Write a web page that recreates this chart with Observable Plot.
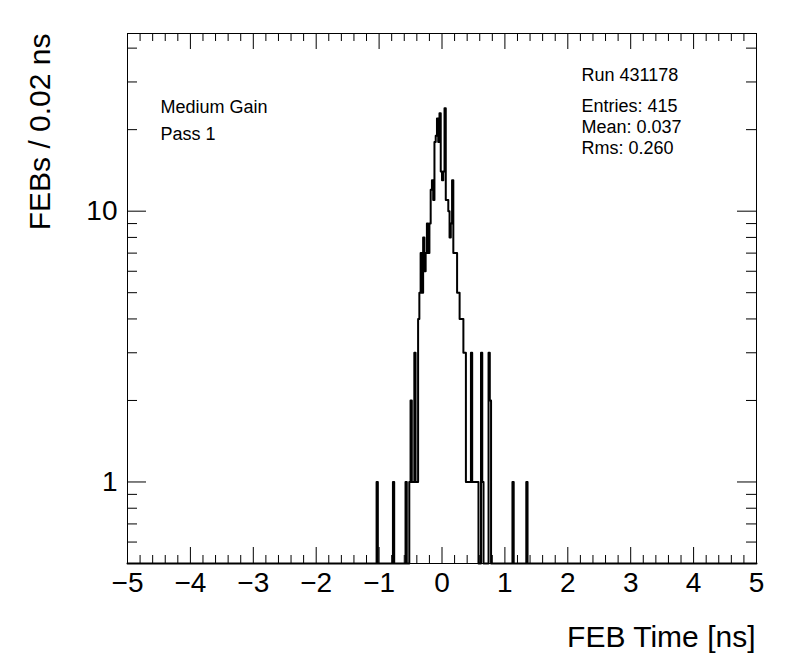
<!DOCTYPE html>
<html>
<head>
<meta charset="utf-8">
<script src="https://cdn.jsdelivr.net/npm/d3@7"></script>
<script src="https://cdn.jsdelivr.net/npm/@observablehq/plot@0.6"></script>
<style>
  body { margin: 0; background: #fff; }
  #chart svg { display: block; }
</style>
</head>
<body>
<div id="chart"></div>
<script>
// ---- data ----
const binWidth = 0.02;
const xMin = -5, xMax = 5;
const binLow = [
  -1.04, -0.78, -0.58, -0.52, -0.50, -0.48, -0.46, -0.44, -0.42, -0.40, -0.38,
  -0.36, -0.34, -0.32, -0.30, -0.28, -0.26, -0.24, -0.22, -0.20,
  -0.18, -0.16, -0.14, -0.12, -0.10, -0.08, -0.06, -0.04, -0.02,
  0.00, 0.02, 0.04, 0.06, 0.08, 0.10, 0.12, 0.14, 0.16, 0.18,
  0.20, 0.22, 0.24, 0.26, 0.28, 0.30, 0.32, 0.34, 0.36,
  0.38, 0.40, 0.42, 0.44, 0.46, 0.48, 0.50, 0.52, 0.54, 0.56,
  0.62, 0.64, 0.74, 0.76, 1.12, 1.34
];
const binCount = [
  1, 1, 1, 1, 2, 1, 1, 3, 1, 1, 4,
  5, 7, 5, 8, 6, 7, 9, 7, 9,
  12, 13, 11, 18, 19, 22, 18, 23, 14,
  13, 14, 24, 11, 11, 10, 8, 9, 13, 7,
  7, 7, 5, 5, 4, 4, 4, 3, 3,
  1, 1, 1, 1, 3, 1, 1, 1, 1, 1,
  3, 1, 3, 2, 1, 1
];
const xMajorTicks = [-5, -4, -3, -2, -1, 0, 1, 2, 3, 4, 5];
const yMajorTicks = [1, 10];
const yMinorTicks = [0.6, 0.7, 0.8, 0.9, 2, 3, 4, 5, 6, 7, 8, 9, 20, 30, 40];
const yDomain = [0.5, 45.3];
const xTitle = "FEB Time [ns]";
const yTitle = "FEBs / 0.02 ns";
const infoLines = ["Medium Gain", "Pass 1"];
const runLabel = "Run 431178";
const statLines = ["Entries: 415", "Mean: 0.037", "Rms: 0.260"];

// ---- build histogram steps ----
const nBins = Math.round((xMax - xMin) / binWidth);
const counts = new Array(nBins).fill(0);
binLow.forEach((lo, i) => { counts[Math.round((lo - xMin) / binWidth)] = binCount[i]; });
const steps = counts.map((c, i) => ({x: xMin + i * binWidth, y: c}));
steps.push({x: xMax, y: counts[nBins - 1]});

// minor x ticks every 0.2 between majors
const xMinorTicks = d3.range(xMin * 5, xMax * 5 + 1).filter(k => k % 5 !== 0).map(k => k / 5);

// ---- layout ----
const W = 796, H = 672;
const mL = 127, mR = 40, mT = 33, mB = 109;
const iw = W - mL - mR, ih = H - mT - mB;
const font = "'Liberation Sans', Arial, Helvetica, sans-serif";
const fmt = d => d < 0 ? "\u2212" + (-d) : String(d);

const tickOpts = {stroke: "black", strokeWidth: 1};

const chart = Plot.plot({
  width: W, height: H,
  marginLeft: mL, marginRight: mR, marginTop: mT, marginBottom: mB,
  style: {fontFamily: font, background: "white", color: "black"},
  x: {domain: [xMin, xMax], axis: null},
  y: {type: "log", domain: yDomain, clamp: true, axis: null},
  marks: [
    // histogram outline
    Plot.line(steps, {x: "x", y: "y", curve: "step-after", stroke: "black", strokeWidth: 2}),
    Plot.frame({stroke: "black", strokeWidth: 1}),
    // x ticks bottom & top
    Plot.tickX(xMajorTicks, {x: d => d, insetTop: ih - 16, ...tickOpts}),
    Plot.tickX(xMinorTicks, {x: d => d, insetTop: ih - 8, ...tickOpts}),
    Plot.tickX(xMajorTicks, {x: d => d, insetBottom: ih - 16, ...tickOpts}),
    Plot.tickX(xMinorTicks, {x: d => d, insetBottom: ih - 8, ...tickOpts}),
    // y ticks left & right
    Plot.tickY(yMajorTicks, {y: d => d, insetRight: iw - 19, ...tickOpts}),
    Plot.tickY(yMinorTicks, {y: d => d, insetRight: iw - 10, ...tickOpts}),
    Plot.tickY(yMajorTicks, {y: d => d, insetLeft: iw - 19, ...tickOpts}),
    Plot.tickY(yMinorTicks, {y: d => d, insetLeft: iw - 10, ...tickOpts}),
    // tick labels
    Plot.text(xMajorTicks, {x: d => d, text: fmt, frameAnchor: "bottom", lineAnchor: "middle",
      dy: 20, fontSize: 28, fill: "black"}),
    Plot.text(yMajorTicks, {y: d => d, text: fmt, frameAnchor: "left", textAnchor: "end",
      lineAnchor: "middle", dx: -10, fontSize: 28, fill: "black"}),
    // axis titles
    Plot.text([xTitle], {text: d => d, frameAnchor: "bottom-right", textAnchor: "end",
      lineAnchor: "middle", dx: -1, dy: 74, fontSize: 30, fill: "black"}),
    Plot.text([yTitle], {text: d => d, frameAnchor: "top-left", textAnchor: "end",
      lineAnchor: "middle", rotate: -90, dx: 40 - mL, dy: 0, fontSize: 30, fill: "black"}),
    // annotations
    ...infoLines.map((s, i) => Plot.text([s], {text: d => d, frameAnchor: "top-left",
      textAnchor: "start", lineAnchor: "middle", dx: 33, dy: 74 + i * 27, fontSize: 18, fill: "black"})),
    Plot.text([runLabel], {text: d => d, frameAnchor: "top-left", textAnchor: "start",
      lineAnchor: "middle", dx: 454, dy: 42, fontSize: 18, fill: "black"}),
    ...statLines.map((s, i) => Plot.text([s], {text: d => d, frameAnchor: "top-left",
      textAnchor: "start", lineAnchor: "middle", dx: 454, dy: 73 + i * 21, fontSize: 18, fill: "black"}))
  ]
});
document.getElementById("chart").appendChild(chart);
</script>
</body>
</html>
